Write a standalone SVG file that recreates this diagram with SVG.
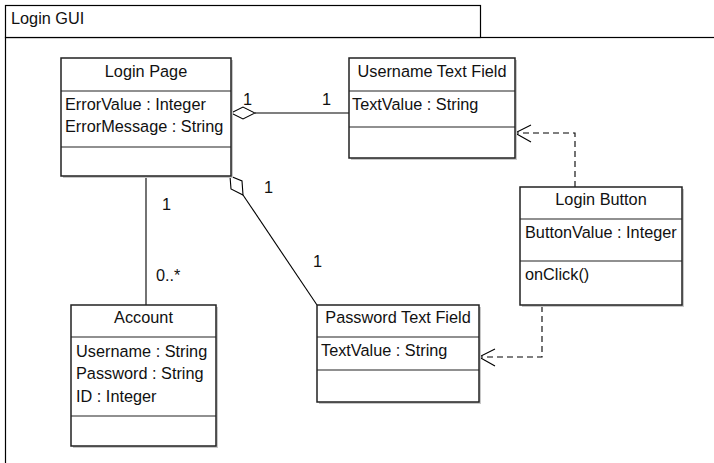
<svg xmlns="http://www.w3.org/2000/svg" width="714" height="463" viewBox="0 0 714 463">
  <style>
    text { font-family: "Liberation Sans", Arial, sans-serif; font-size: 16.3px; fill: #111; }
    .title { text-anchor: middle; }
    .box { fill: #fff; stroke: #222; stroke-width: 1.5; }
    .shadow { fill: #c8c8c8; }
    .sep { stroke: #222; stroke-width: 1.2; }
    .line { fill: none; stroke: #000; stroke-width: 1.1; }
    .dash { fill: none; stroke: #000; stroke-width: 1.1; stroke-dasharray: 6 4; }
    .diamond { fill: #fff; stroke: #000; stroke-width: 1.1; }
    .pkg { fill: #fff; stroke: #000; stroke-width: 1.2; }
  </style>
  <rect width="714" height="463" fill="#fff"/>

  <!-- package frame -->
  <g id="login-gui">
    <rect class="pkg" x="5.5" y="37.5" width="720" height="440"/>
    <rect class="pkg" x="5.5" y="5.5" width="475" height="32"/>
    <text x="11" y="24">Login GUI</text>
  </g>

  <!-- connectors -->
  <g id="connectors">
    <!-- aggregation: Login Page <>- Username Text Field -->
    <line class="line" x1="255" y1="113" x2="349" y2="113"/>
    <polygon class="diamond" points="231,113 243,107 255,113 243,119"/>
    <text x="243" y="105">1</text>
    <text x="322" y="105">1</text>

    <!-- aggregation: Login Page <>- Password Text Field -->
    <line class="line" x1="243" y1="195" x2="317" y2="305"/>
    <polygon class="diamond" points="230,176 242,181 243,195 231,189"/>
    <text x="264" y="193">1</text>
    <text x="313" y="267">1</text>

    <!-- association: Login Page - Account -->
    <line class="line" x1="146" y1="176" x2="146" y2="305"/>
    <text x="162" y="210">1</text>
    <text x="156" y="281">0..*</text>

    <!-- dependency: Login Button to Username Text Field -->
    <polyline class="dash" points="575,187 575,133 517,133"/>
    <polyline class="line" points="531,125 515,133 531,142"/>

    <!-- dependency: Login Button to Password Text Field -->
    <polyline class="dash" points="542,306 542,357 481,357"/>
    <polyline class="line" points="495,349 479,357 495,366"/>
  </g>

  <!-- Login Page -->
  <g id="login-page">
    <rect class="shadow" x="63" y="60" width="170" height="118"/>
    <rect class="box" x="61" y="58" width="170" height="118"/>
    <line class="sep" x1="61" y1="91" x2="231" y2="91"/>
    <line class="sep" x1="61" y1="147" x2="231" y2="147"/>
    <text class="title" x="146" y="77">Login Page</text>
    <text x="65" y="110">ErrorValue : Integer</text>
    <text x="65" y="132">ErrorMessage : String</text>
  </g>

  <!-- Username Text Field -->
  <g id="username-text-field">
    <rect class="shadow" x="351" y="60" width="166" height="100"/>
    <rect class="box" x="349" y="58" width="166" height="100"/>
    <line class="sep" x1="349" y1="91" x2="515" y2="91"/>
    <line class="sep" x1="349" y1="127" x2="515" y2="127"/>
    <text class="title" x="432" y="77">Username Text Field</text>
    <text x="352" y="110">TextValue : String</text>
  </g>

  <!-- Login Button -->
  <g id="login-button">
    <rect class="shadow" x="522" y="189" width="162" height="118"/>
    <rect class="box" x="520" y="187" width="162" height="118"/>
    <line class="sep" x1="520" y1="219" x2="682" y2="219"/>
    <line class="sep" x1="520" y1="261" x2="682" y2="261"/>
    <text class="title" x="601" y="205">Login Button</text>
    <text x="525" y="238">ButtonValue : Integer</text>
    <text x="525" y="280">onClick()</text>
  </g>

  <!-- Account -->
  <g id="account">
    <rect class="shadow" x="73" y="307" width="145" height="141"/>
    <rect class="box" x="71" y="305" width="145" height="141"/>
    <line class="sep" x1="71" y1="337" x2="216" y2="337"/>
    <line class="sep" x1="71" y1="416" x2="216" y2="416"/>
    <text class="title" x="143.5" y="323">Account</text>
    <text x="76" y="357">Username : String</text>
    <text x="76" y="379">Password : String</text>
    <text x="76" y="402">ID : Integer</text>
  </g>

  <!-- Password Text Field -->
  <g id="password-text-field">
    <rect class="shadow" x="319" y="307" width="162" height="97"/>
    <rect class="box" x="317" y="305" width="162" height="97"/>
    <line class="sep" x1="317" y1="337" x2="479" y2="337"/>
    <line class="sep" x1="317" y1="370" x2="479" y2="370"/>
    <text class="title" x="398" y="323">Password Text Field</text>
    <text x="321" y="356">TextValue : String</text>
  </g>
</svg>
